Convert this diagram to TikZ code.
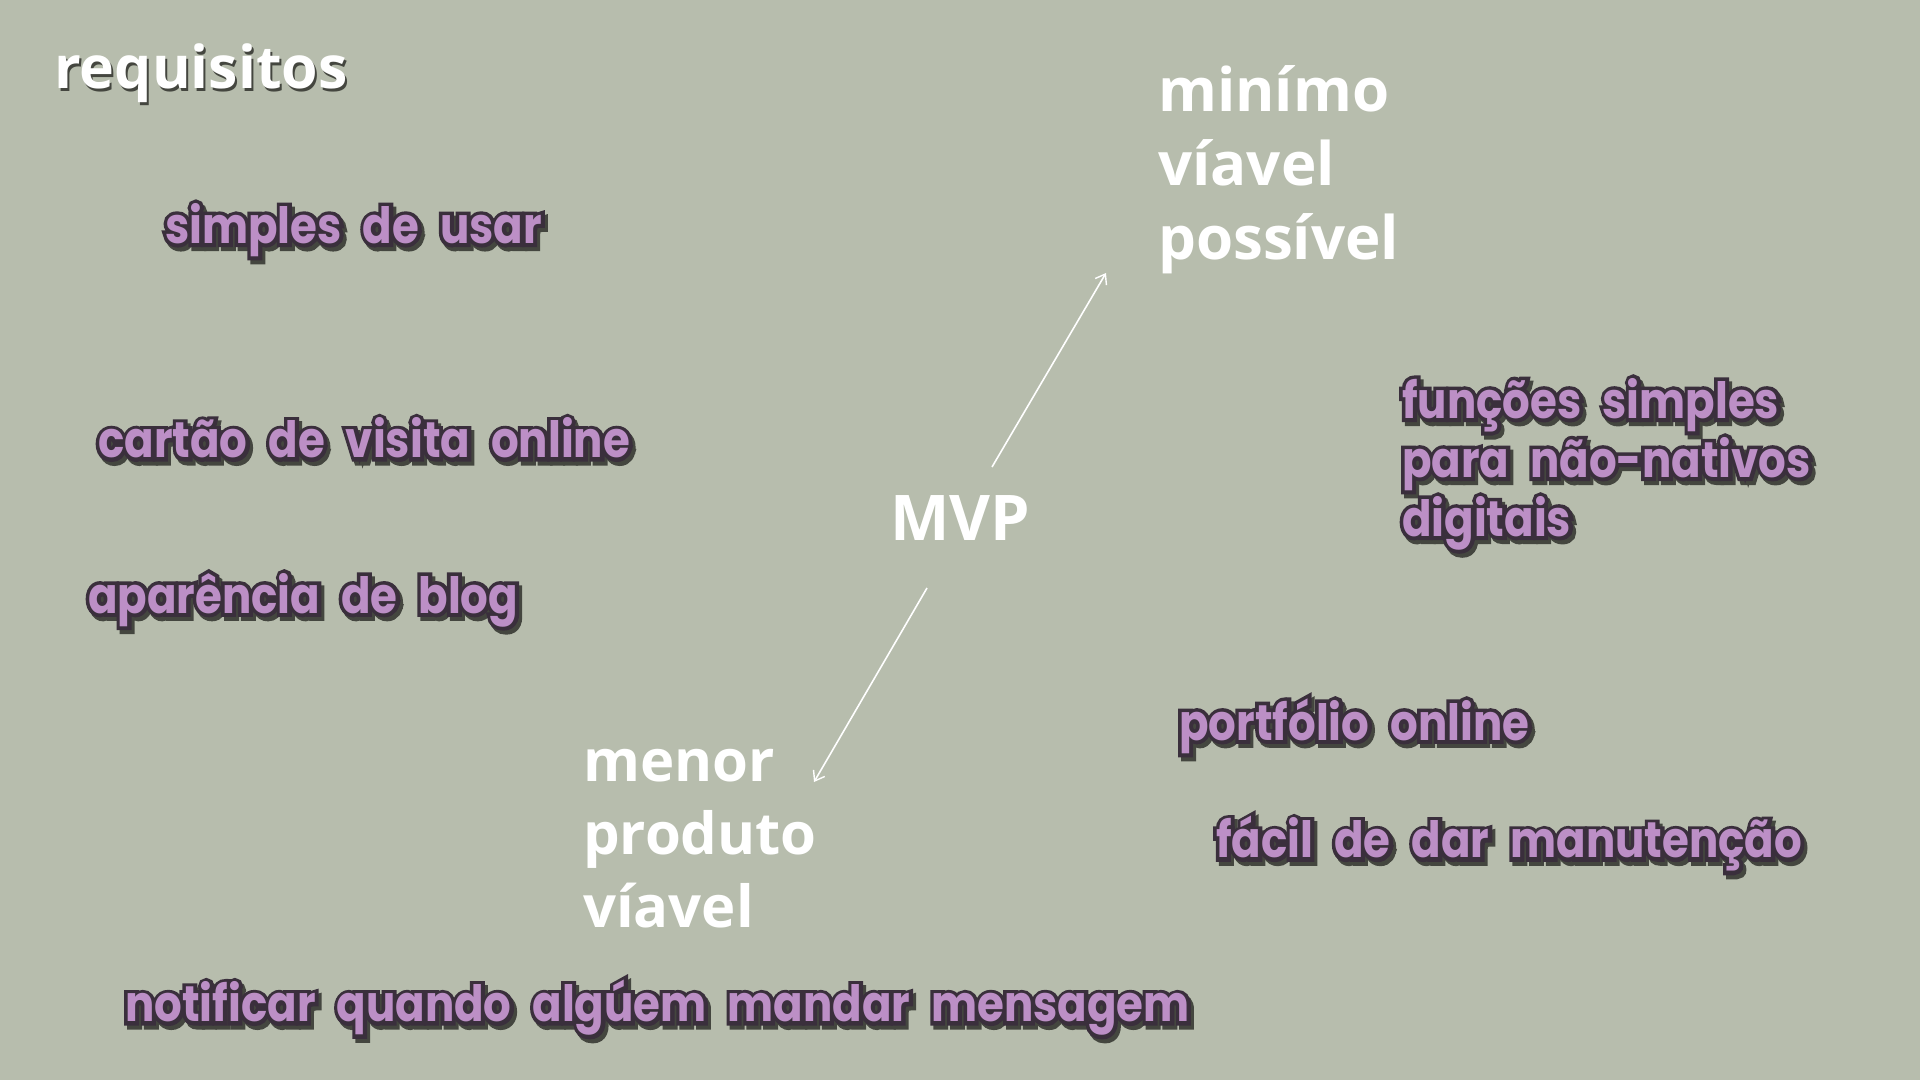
\documentclass[tikz,border=0pt]{standalone}
\usepackage{fontspec}
\usetikzlibrary{arrows.meta}
\setmainfont{Open Sans}
\newfontfamily\wfont{Open Sans}
\newfontfamily\pfill{Poppins}[FakeStretch=0.87]
\newfontfamily\pout{Poppins}[FakeStretch=0.87,FakeBold=15]
\definecolor{bgc}{HTML}{B7BDAD}
\definecolor{purp}{HTML}{BC8FC6}
\definecolor{outc}{HTML}{3A2F3C}
\definecolor{shadc}{HTML}{44463F}
\newskip\bubspace
\bubspace=21pt
\newcommand\bub[1]{\leavevmode\spaceskip=\bubspace\rlap{\color{shadc}\kern3pt\raisebox{-4pt}{\pout\bfseries #1}}\rlap{\color{outc}\pout\bfseries #1}{\color{purp}\pfill\bfseries #1}}
\newcommand\wshad[1]{\leavevmode\rlap{\color{shadc}\kern2pt\raisebox{-3pt}{#1}}#1}
\tikzset{
  wtext/.style={text=white, inner sep=0pt, align=left, font=\wfont\bfseries\fontsize{58}{73}\selectfont},
  ptext/.style={inner sep=0pt, align=left, font=\fontsize{50}{59}\selectfont},
  arr/.style={draw=white, line width=1.6pt, -{Straight Barb[length=9pt,width=13pt,line width=1.4pt]}}
}
\begin{document}
\begin{tikzpicture}[x=1pt,y=-1pt]
\fill[bgc] (0,0) rectangle (1920,1080);
\useasboundingbox (0,0) rectangle (1920,1080);
\node[wtext, anchor=base west, font=\wfont\bfseries\fontsize{59}{73}\selectfont] (req) at (54,88) {\wshad{requisitos}};
\node[wtext, anchor=base west, font=\wfont\bfseries\fontsize{60}{74}\selectfont] (min) at (1158,259) {minímo\\víavel\\possível};
\node[wtext, anchor=base west] (men) at (583,927) {menor\\produto\\víavel};
\node[wtext, anchor=base west, font=\wfont\bfseries\fontsize{63}{73}\selectfont] (mvp) at (890,540) {MVP};
\node[ptext, anchor=west] (simp) at (165,232) {\bub{simples de usar}};
\node[ptext, anchor=west] (cart) at (98,440) {\bub{cartão de visita online}};
\node[ptext, anchor=west] (apar) at (88,602) {\bub{aparência de blog}};
\node[ptext, anchor=west] (noti) at (125,1010) {\bub{notificar quando algúem mandar mensagem}};
\node[ptext, anchor=north west] (func) at (1402,378) {\bub{funções simples}\\\bub{para não-nativos}\\\bub{digitais}};
\node[ptext, anchor=west] (port) at (1179,728) {\bub{portfólio online}};
\node[ptext, anchor=west] (faci) at (1216,846) {\bub{fácil de dar manutenção}};
\coordinate (a1s) at (992,467);
\coordinate (a1e) at (1106,273);
\coordinate (a2s) at (927,588);
\coordinate (a2e) at (814,782);
\draw[arr] (a1s) -- (a1e);
\draw[arr] (a2s) -- (a2e);
\end{tikzpicture}
\end{document}
